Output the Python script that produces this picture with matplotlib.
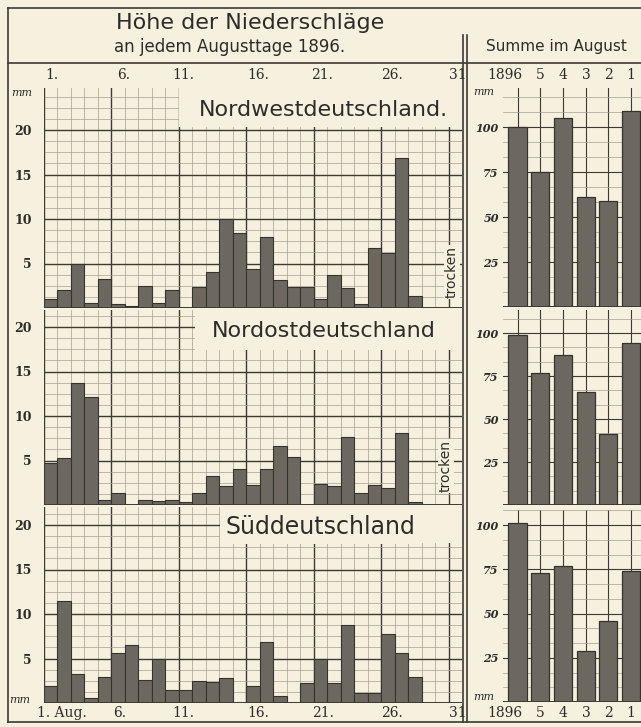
import numpy as np
import matplotlib
matplotlib.use("Agg")
import matplotlib.pyplot as plt
from matplotlib.patches import Rectangle

W, H = 641, 727
PAPER = "#f6f1de"
BAR = "#6c685f"
EDGE = "#35332e"
LINE = "#3d3a34"
GRID = "#a39e92"

# Niederschlag je Augusttag 1896 (mm), Tag 1..31
days = np.arange(1, 32)
nw_daily = [1.0, 2.0, 4.9, 0.6, 3.3, 0.5, 0.2, 2.5, 0.6, 2.0, 0.0, 2.4, 4.1, 10.0, 8.4, 4.4,
            8.0, 3.2, 2.4, 2.4, 1.0, 3.7, 2.2, 0.5, 6.7, 6.2, 16.8, 1.3, 0.0, 0.0, 0.0]
ne_daily = [4.7, 5.3, 13.7, 12.1, 0.6, 1.3, 0.0, 0.6, 0.4, 0.6, 0.3, 1.4, 3.3, 2.1, 4.0, 2.3,
            4.0, 6.6, 5.4, 0.0, 2.4, 2.1, 7.6, 1.3, 2.2, 1.9, 8.1, 0.3, 0.0, 0.0, 0.0]
sd_daily = [1.9, 11.5, 3.3, 0.6, 2.9, 5.6, 6.5, 2.6, 4.9, 1.5, 1.5, 2.5, 2.4, 2.8, 0.0, 1.9,
            6.8, 0.8, 0.0, 2.3, 5.0, 2.3, 8.8, 1.1, 1.1, 7.8, 5.6, 2.9, 0.0, 0.0, 0.0]

# Summe im August, Jahre 1896..1891 (mm)
years = ["1896", "1895", "1894", "1893", "1892", "1891"]
nw_sum = [100, 75, 105, 61, 59, 109]
ne_sum = [99, 77, 87, 66, 41, 94]
sd_sum = [101, 73, 77, 29, 46, 74]

regions = ["Nordwestdeutschland.", "Nordostdeutschland", "Süddeutschland"]
day_labels_top = ["1.", "6.", "11.", "16.", "21.", "26.", "31"]
day_labels_bottom = ["1. Aug.", "6.", "11.", "16.", "21.", "26.", "31"]


def rect(x0, y0, x1, y1):
    # pixel box (von oben gemessen) -> figure fraction
    return [x0 / W, 1 - y1 / H, (x1 - x0) / W, (y1 - y0) / H]


fig = plt.figure(figsize=(W / 100, H / 100), dpi=100, facecolor=PAPER)

# linke Felder: (y oben, y unten in px), Titelposition
left_boxes = [(88, 308), (310, 505), (507, 703)]
right_boxes = [(88, 307), (310, 505), (510, 702)]
right_tops = [121.7, 113.4, 108.5]
title_pos = [(20.75, 22.3, 16), (20.75, 19.6, 16), (20.5, 19.8, 17)]
# freier Raum um die Feldtitel (Tag ab, mm ab)
blank = [(10.0, 20.3), (11.2, 17.4), (14.0, 18.0)]

for i, (daily, summe) in enumerate(zip([nw_daily, ne_daily, sd_daily], [nw_sum, ne_sum, sd_sum])):
    y0, y1 = left_boxes[i]
    top = (y1 - y0) / 8.9
    ax = fig.add_axes(rect(44, y0, 462, y1))
    ax.set_facecolor(PAPER)
    ax.set_xlim(0, 31)
    ax.set_ylim(0, top)
    ax.set_xticks(np.arange(0, 32, 5))
    ax.set_xticks(np.arange(0, 32, 1), minor=True)
    ax.set_yticks([5, 10, 15, 20])
    ax.set_yticks(np.arange(0, top, 1.25), minor=True)
    ax.grid(which="minor", color=GRID, lw=0.5)
    ax.grid(which="major", color=LINE, lw=1.0)
    ax.set_axisbelow(True)
    ax.tick_params(which="both", length=0)
    ax.tick_params(axis="y", pad=9)
    ax.set_xticklabels([])
    ax.set_yticklabels(["5", "10", "15", "20"], fontsize=9, fontweight="bold",
                       family="DejaVu Serif", color="#2e2c28")
    for s in ax.spines.values():
        s.set_visible(False)
    bx, by = blank[i]
    ax.add_patch(Rectangle((bx, by), 31 - bx, top - by, facecolor=PAPER, edgecolor="none", zorder=1))
    ax.axhline(0, color=LINE, lw=1.4, zorder=4)
    ax.axvline(0, color=LINE, lw=1.2, zorder=4)
    ax.bar(days - 0.5, daily, width=1.0, color=BAR, edgecolor=EDGE, lw=0.8, zorder=3)
    tx, ty, fs = title_pos[i]
    ax.text(tx, ty, regions[i], ha="center", va="center", fontsize=fs, color="#2e2c28",
            zorder=5, bbox=dict(facecolor=PAPER, edgecolor="none", pad=4))

    # rechte Felder: Monatssummen
    r0, r1 = right_boxes[i]
    ax2 = fig.add_axes(rect(503, r0, 641, r1))
    ax2.set_facecolor(PAPER)
    xs = np.arange(len(years))
    ax2.set_xlim(-0.64, 5.44)
    ax2.set_ylim(0, right_tops[i])
    ax2.set_xticks(xs)
    ax2.set_yticks([25, 50, 75, 100])
    ax2.set_yticks(np.arange(0, right_tops[i], 25 / 3), minor=True)
    ax2.grid(which="minor", axis="y", color=GRID, lw=0.5)
    ax2.grid(which="major", color=LINE, lw=0.8)
    ax2.set_axisbelow(True)
    ax2.tick_params(which="both", length=0)
    ax2.tick_params(axis="y", pad=3)
    ax2.set_xticklabels([])
    ax2.set_yticklabels(["25", "50", "75", "100"], fontsize=8, fontweight="bold",
                        family="DejaVu Serif", style="italic", color="#2e2c28")
    for s in ax2.spines.values():
        s.set_visible(False)
    ax2.axhline(0, color=LINE, lw=1.4, zorder=4)
    ax2.bar(xs, summe, width=0.8, color=BAR, edgecolor=EDGE, lw=0.9, zorder=3)

# Rahmen, Ueberschriften und Beschriftungen
ov = fig.add_axes([0, 0, 1, 1])
ov.set_xlim(0, W)
ov.set_ylim(H, 0)
ov.axis("off")
ov.patch.set_alpha(0)
lk = dict(color=LINE, lw=1.2)
ov.plot([8, 641], [8, 8], **lk)
ov.plot([8, 8], [8, 722], **lk)
ov.plot([8, 641], [722, 722], **lk)
ov.plot([8, 641], [63, 63], **lk)
ov.plot([463, 463], [35, 722], **lk)
ov.plot([467, 467], [35, 722], **lk)

ink = "#2e2c28"
ov.text(250, 23, "Höhe der Niederschläge", ha="center", va="center", fontsize=16, color=ink)
ov.text(230, 47, "an jedem Augusttage 1896.", ha="center", va="center", fontsize=12, color=ink)
ov.text(556, 47, "Summe im August", ha="center", va="center", fontsize=11, color=ink)

top_x = [52, 124, 183, 258, 322, 392, 458]
bot_x = [62, 120, 183, 258, 323, 392, 458]
for lab, x in zip(day_labels_top, top_x):
    ov.text(x, 75, lab, ha="center", va="center", fontsize=10, family="DejaVu Serif", color=ink)
for lab, x in zip(day_labels_bottom, bot_x):
    ov.text(x, 713, lab, ha="center", va="center", fontsize=10, family="DejaVu Serif", color=ink)

yr_x = [517, 540, 563, 586, 608, 631]
for k, (yr, x) in enumerate(zip(years, yr_x)):
    lab = yr if k == 0 else yr[-1]
    ha = "right" if k == 0 else "center"
    xx = x + 5 if k == 0 else x
    ov.text(xx, 75, lab, ha=ha, va="center", fontsize=10, family="DejaVu Serif", color=ink)
    ov.text(xx, 713, lab, ha=ha, va="center", fontsize=10, family="DejaVu Serif", color=ink)

mm = dict(ha="center", va="center", fontsize=8, style="italic", family="DejaVu Serif", color=ink)
ov.text(22, 93, "mm", **mm)
ov.text(20, 700, "mm", **mm)
ov.text(484, 92, "mm", **mm)
ov.text(484, 697, "mm", **mm)

ov.text(452, 272, "trocken", ha="center", va="center", rotation=90, fontsize=10, color=ink,
        bbox=dict(facecolor=PAPER, edgecolor="none", pad=1))
ov.text(446, 466, "trocken", ha="center", va="center", rotation=90, fontsize=10, color=ink,
        bbox=dict(facecolor=PAPER, edgecolor="none", pad=1))

fig.savefig("out.png", dpi=100, facecolor=PAPER)
